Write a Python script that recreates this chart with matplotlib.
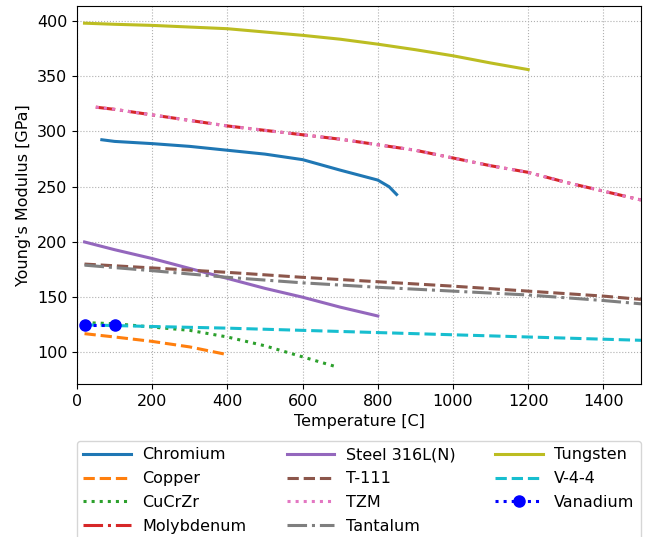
import matplotlib
matplotlib.use('Agg')
import matplotlib.pyplot as plt

# Dane (temperatura [C], moduł Younga [GPa])
cr_t = [66, 100, 200, 300, 400, 500, 600, 700, 800, 830, 850]
cr_e = [292.5, 291, 289, 286.5, 283, 279.5, 274.5, 265, 256, 250, 243]

cu_t = [20, 100, 200, 300, 400]
cu_e = [117, 114, 110, 105, 98]

cucrzr_t = [20, 100, 200, 300, 400, 500, 600, 690]
cucrzr_e = [127, 126, 123, 120, 114, 106, 96, 87]

mo_t = [50, 100, 200, 300, 400, 500, 600, 700, 800, 900, 1000, 1100, 1200, 1300, 1400, 1500]
mo_e = [322, 320, 315, 310, 305, 301, 297, 293, 288, 283, 276, 269, 263, 254, 246, 238]

steel_t = [20, 100, 200, 300, 400, 500, 600, 700, 800]
steel_e = [200, 193, 185, 176, 167, 158, 150, 141, 133]

t111_t = [20, 200, 400, 600, 800, 1000, 1200, 1400, 1500]
t111_e = [180, 176.5, 172.5, 168, 164, 160, 155.5, 151, 148]

tzm_t = mo_t
tzm_e = mo_e

ta_t = [20, 200, 400, 600, 800, 1000, 1200, 1400, 1500]
ta_e = [179, 174, 168, 163, 159, 155.5, 152, 147, 144]

w_t = [20, 100, 200, 300, 400, 500, 600, 700, 800, 900, 1000, 1100, 1200]
w_e = [398, 397, 396, 394.5, 393, 390, 387, 383.5, 379, 374, 368.5, 362, 356]

v44_t = [20, 200, 400, 600, 800, 1000, 1200, 1400, 1500]
v44_e = [125, 123.5, 122, 120, 118, 116, 114, 112, 111]

v_t = [20, 100]
v_e = [125, 125]

plt.rcParams['font.size'] = 11.5

fig = plt.figure(figsize=(6.52, 5.37), dpi=100)
ax = fig.add_axes([77 / 652, 1 - 384 / 537, (641 - 77) / 652, (384 - 6) / 537])

lw = 2.2
ax.plot(cr_t, cr_e, '-', color='C0', lw=lw, label='Chromium')
ax.plot(cu_t, cu_e, '--', color='C1', lw=lw, label='Copper')
ax.plot(cucrzr_t, cucrzr_e, ':', color='C2', lw=lw, label='CuCrZr')
ax.plot(mo_t, mo_e, '-.', color='C3', lw=lw, label='Molybdenum')
ax.plot(steel_t, steel_e, '-', color='C4', lw=lw, label='Steel 316L(N)')
ax.plot(t111_t, t111_e, '--', color='C5', lw=lw, label='T-111')
ax.plot(tzm_t, tzm_e, ':', color='C6', lw=lw, label='TZM')
ax.plot(ta_t, ta_e, '-.', color='C7', lw=lw, label='Tantalum')
ax.plot(w_t, w_e, '-', color='C8', lw=lw, label='Tungsten')
ax.plot(v44_t, v44_e, '--', color='C9', lw=lw, label='V-4-4')
ax.plot(v_t, v_e, 'bo:', lw=lw, ms=8, label='Vanadium')

ax.set_xlim(0, 1500)
ax.set_xlabel('Temperature [C]')
ax.set_ylabel("Young's Modulus [GPa]")
ax.grid(True, linestyle=':', color='#b0b0b0')

ax.legend(loc='upper left', bbox_to_anchor=(0, -0.251, 1, 0.1), mode='expand',
          ncol=3, fontsize=11.5, handlelength=3, handletextpad=0.7,
          labelspacing=0.55, borderaxespad=0)

fig.savefig('out.png', dpi=100)
